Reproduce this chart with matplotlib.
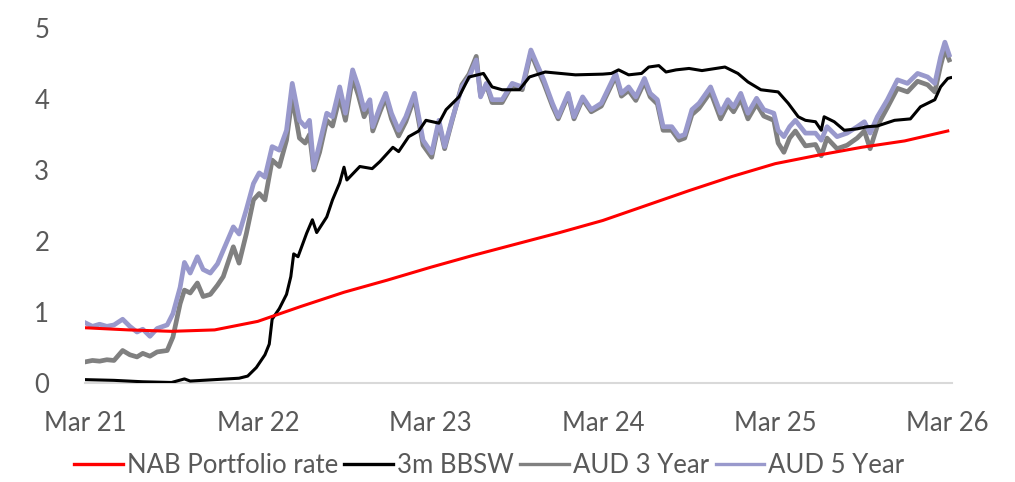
import matplotlib.pyplot as plt

plt.rcParams['font.family'] = ['Lato', 'DejaVu Sans']

# months since Mar 2021
tick_pos = [0, 12, 24, 36, 48, 60]
tick_labels = ["Mar 21", "Mar 22", "Mar 23", "Mar 24", "Mar 25", "Mar 26"]

nab_m = [0, 3, 6, 9, 12, 15, 18, 21, 24, 27, 30, 33, 36, 39, 42, 45, 48, 51, 54, 57, 60]
nab_rate = [0.78, 0.75, 0.73, 0.75, 0.87, 1.08, 1.28, 1.45, 1.63, 1.80, 1.96, 2.12,
            2.29, 2.50, 2.71, 2.91, 3.09, 3.21, 3.32, 3.41, 3.55]

bbsw_m = [0, 2, 4, 6, 6.9, 7.3, 9, 10.7, 11.3, 11.9, 12.5, 12.8, 13.0, 13.5, 14.0,
          14.3, 14.5, 14.8, 15.4, 15.8, 16.1, 16.8, 17.2, 17.7, 18.0, 18.2, 19.1,
          19.96, 20.5, 21.4, 21.8, 22.5, 23.2, 23.7, 24.6, 25.1, 26.0, 26.7, 27.7,
          28.3, 29.0, 30.2, 30.9, 32.0, 34.1, 36.0, 36.6, 37.1, 37.8, 38.7, 39.2,
          39.9, 40.4, 41.1, 42.0, 42.9, 44.5, 45.4, 46.1, 47.0, 48.2, 48.9, 49.6,
          50.1, 50.8, 51.2, 51.4, 52.1, 52.8, 53.7, 54.4, 55.1, 56.3, 57.4, 58.1,
          59.1, 59.5, 60.0, 60.2]
bbsw = [0.05, 0.04, 0.02, 0.01, 0.06, 0.03, 0.05, 0.07, 0.10, 0.22, 0.40, 0.55,
        0.90, 1.05, 1.25, 1.50, 1.82, 1.78, 2.11, 2.30, 2.12, 2.34, 2.58, 2.82,
        3.04, 2.86, 3.05, 3.02, 3.12, 3.32, 3.26, 3.47, 3.55, 3.70, 3.66, 3.85,
        4.03, 4.31, 4.36, 4.17, 4.13, 4.13, 4.31, 4.38, 4.34, 4.35, 4.36, 4.41,
        4.34, 4.36, 4.45, 4.47, 4.38, 4.41, 4.43, 4.40, 4.45, 4.36, 4.24, 4.13,
        4.10, 3.94, 3.75, 3.70, 3.68, 3.56, 3.75, 3.68, 3.56, 3.58, 3.61, 3.62,
        3.70, 3.72, 3.89, 3.99, 4.17, 4.29, 4.30]

swap_m = [0.0, 0.5, 1.0, 1.5, 2.0, 2.6, 3.1, 3.6, 4.0, 4.5, 5.0, 5.7, 6.1, 6.6, 6.9,
          7.3, 7.8, 8.2, 8.7, 9.2, 9.6, 10.3, 10.7, 11.2, 11.7, 12.1, 12.5, 13.0,
          13.5, 14.0, 14.4, 14.9, 15.3, 15.6, 15.9, 16.3, 16.8, 17.2, 17.7, 18.1,
          18.6, 19.0, 19.4, 19.8, 20.0, 20.5, 20.9, 21.3, 21.8, 22.3, 22.9, 23.5,
          24.1, 24.6, 25.0, 25.5, 26.2, 26.7, 27.2, 27.5, 27.9, 28.3, 29.0, 29.7,
          30.4, 31.0, 31.4, 31.9, 32.5, 32.9, 33.6, 34.0, 34.6, 35.2, 35.9, 36.9,
          37.3, 37.8, 38.3, 38.9, 39.3, 39.8, 40.2, 40.8, 41.3, 41.7, 42.2, 42.7,
          43.5, 44.2, 44.7, 45.1, 45.6, 46.1, 46.7, 47.2, 47.9, 48.2, 48.6, 49.0,
          49.4, 50.1, 50.8, 51.2, 51.6, 52.3, 53.0, 53.7, 54.2, 54.6, 55.1, 55.8,
          56.5, 57.2, 57.9, 58.6, 59.1, 59.5, 59.8, 60.1]

aud5 = [0.85, 0.80, 0.83, 0.80, 0.82, 0.90, 0.80, 0.72, 0.76, 0.66, 0.77, 0.82,
        0.98, 1.35, 1.70, 1.55, 1.78, 1.60, 1.55, 1.68, 1.87, 2.20, 2.10, 2.44,
        2.81, 2.96, 2.90, 3.33, 3.28, 3.56, 4.22, 3.70, 3.61, 3.70, 3.04, 3.37,
        3.80, 3.75, 4.17, 3.80, 4.41, 4.17, 3.85, 3.99, 3.61, 3.89, 4.08, 3.80,
        3.56, 3.75, 4.08, 3.42, 3.24, 3.70, 3.33, 3.70, 4.17, 4.31, 4.55, 4.03,
        4.22, 3.99, 3.99, 4.22, 4.17, 4.69, 4.50, 4.27, 3.94, 3.75, 4.08, 3.75,
        4.03, 3.85, 3.94, 4.36, 4.08, 4.17, 4.03, 4.29, 4.08, 3.99, 3.61, 3.61,
        3.47, 3.50, 3.85, 3.94, 4.17, 3.80, 3.99, 3.89, 4.08, 3.80, 4.01, 3.85,
        3.80, 3.56, 3.47, 3.61, 3.70, 3.52, 3.52, 3.42, 3.61, 3.47, 3.52, 3.61,
        3.68, 3.52, 3.75, 3.99, 4.27, 4.22, 4.36, 4.31, 4.22, 4.59, 4.80, 4.62]

aud3 = [0.30, 0.32, 0.31, 0.33, 0.32, 0.46, 0.40, 0.37, 0.42, 0.38, 0.44, 0.46,
        0.65, 1.12, 1.31, 1.27, 1.41, 1.22, 1.25, 1.38, 1.50, 1.92, 1.69, 2.10,
        2.58, 2.67, 2.58, 3.14, 3.05, 3.42, 4.03, 3.45, 3.38, 3.50, 3.00, 3.25,
        3.70, 3.62, 4.03, 3.70, 4.30, 4.05, 3.75, 3.92, 3.55, 3.82, 4.02, 3.72,
        3.48, 3.68, 4.02, 3.35, 3.18, 3.66, 3.30, 3.68, 4.20, 4.35, 4.60, 4.05,
        4.20, 3.95, 3.95, 4.20, 4.13, 4.65, 4.45, 4.22, 3.90, 3.72, 4.05, 3.72,
        4.00, 3.82, 3.90, 4.32, 4.04, 4.12, 3.98, 4.24, 4.03, 3.93, 3.56, 3.56,
        3.42, 3.45, 3.78, 3.87, 4.10, 3.72, 3.92, 3.82, 4.00, 3.72, 3.93, 3.76,
        3.70, 3.38, 3.25, 3.45, 3.55, 3.34, 3.36, 3.20, 3.45, 3.30, 3.35, 3.45,
        3.55, 3.30, 3.62, 3.88, 4.15, 4.10, 4.25, 4.20, 4.10, 4.47, 4.70, 4.55]

fig = plt.figure(figsize=(10.15, 4.82), dpi=100)
ax = fig.add_axes([0.084, 0.205, 0.854, 0.737])

l_red, = ax.plot(nab_m, nab_rate, color='#ff0000', lw=2.2, zorder=5, label='NAB Portfolio rate')
l_blk, = ax.plot(bbsw_m, bbsw, color='black', lw=2.2, zorder=4, label='3m BBSW')
l_gry, = ax.plot(swap_m, aud3, color='#808080', lw=3.4, zorder=2, label='AUD 3 Year')
l_lav, = ax.plot(swap_m, aud5, color='#9999cc', lw=3.4, zorder=3, label='AUD 5 Year')

ax.set_xlim(0, 60.3)
ax.set_ylim(0, 5)
ax.set_xticks(tick_pos)
ax.set_xticklabels(tick_labels)
ax.set_yticks([0, 1, 2, 3, 4, 5])
ax.tick_params(axis='both', length=0, labelsize=18.5, labelcolor='#595959')
ax.tick_params(axis='x', pad=20)
ax.tick_params(axis='y', pad=26)
for s in ['top', 'right', 'left']:
    ax.spines[s].set_visible(False)
ax.spines['bottom'].set_color('#d9d9d9')
ax.spines['bottom'].set_linewidth(1.5)

leg = fig.legend(handles=[l_red, l_blk, l_gry, l_lav], loc='center', bbox_to_anchor=(0.482, 0.034),
                 ncol=4, frameon=False, fontsize=18.5, handlelength=1.9, handletextpad=0.15,
                 columnspacing=0.25, labelcolor='#595959')
for h in leg.legend_handles:
    h.set_linewidth(2.4)

fig.savefig('out.png', dpi=100)
